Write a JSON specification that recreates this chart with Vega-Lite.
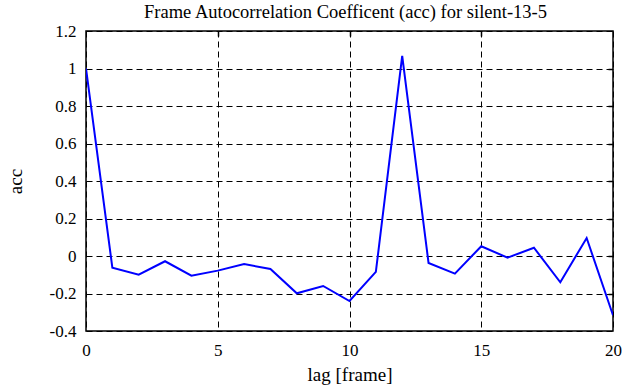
{
  "$schema": "https://vega.github.io/schema/vega-lite/v6.json",
  "width": 527,
  "height": 300,
  "autosize": {"type": "none"},
  "padding": {"left": 86, "top": 31, "right": 17, "bottom": 56},
  "background": "white",
  "title": {
    "text": "Frame Autocorrelation Coefficent (acc) for silent-13-5",
    "font": "Liberation Serif",
    "fontSize": 18.5,
    "fontWeight": "normal",
    "color": "black",
    "offset": 1,
    "dx": -4
  },
  "config": {
    "view": {"stroke": "black", "strokeWidth": 1.5},
    "axis": {
      "labelFont": "Liberation Serif",
      "labelFontSize": 17,
      "labelColor": "black",
      "titleFont": "Liberation Serif",
      "titleFontSize": 19,
      "titleFontWeight": "normal",
      "titleColor": "black",
      "domain": false,
      "gridColor": "black",
      "gridDash": [6, 4],
      "gridWidth": 1,
      "gridOpacity": 1,
      "tickColor": "black",
      "tickWidth": 1.5
    }
  },
  "data": {
    "values": [
      {"lag": 0, "acc": 1.0},
      {"lag": 1, "acc": -0.062},
      {"lag": 2, "acc": -0.1},
      {"lag": 3, "acc": -0.028},
      {"lag": 4, "acc": -0.105},
      {"lag": 5, "acc": -0.078},
      {"lag": 6, "acc": -0.043},
      {"lag": 7, "acc": -0.069},
      {"lag": 8, "acc": -0.199},
      {"lag": 9, "acc": -0.16},
      {"lag": 10, "acc": -0.24},
      {"lag": 11, "acc": -0.085},
      {"lag": 12, "acc": 1.067},
      {"lag": 13, "acc": -0.037},
      {"lag": 14, "acc": -0.094},
      {"lag": 15, "acc": 0.052},
      {"lag": 16, "acc": -0.009},
      {"lag": 17, "acc": 0.044},
      {"lag": 18, "acc": -0.14},
      {"lag": 19, "acc": 0.096},
      {"lag": 20, "acc": -0.316}
    ]
  },
  "layer": [
    {
      "mark": {"type": "line", "color": "#0000ff", "strokeWidth": 2, "clip": true},
      "encoding": {
        "x": {
          "field": "lag",
          "type": "quantitative",
          "scale": {"domain": [0, 20], "nice": false, "zero": false},
          "axis": {
            "orient": "bottom",
            "title": "lag [frame]",
            "values": [0, 5, 10, 15, 20],
            "grid": true,
            "ticks": false,
            "labelFlush": false,
            "labelFont": "Liberation Serif",
            "labelPadding": 11,
            "titlePadding": 7,
            "labelExpr": "'' + datum.value"
          }
        },
        "y": {
          "field": "acc",
          "type": "quantitative",
          "scale": {"domain": [-0.4, 1.2], "nice": false, "zero": false},
          "axis": {
            "orient": "left",
            "title": "acc",
            "values": [-0.4, -0.2, 0, 0.2, 0.4, 0.6, 0.8, 1, 1.2],
            "grid": true,
            "ticks": false,
            "labelFlush": false,
            "labelFont": "Liberation Serif",
            "labelPadding": 10,
            "titlePadding": 24,
            "labelExpr": "'' + datum.value"
          }
        }
      }
    },
    {
      "mark": {"type": "line", "opacity": 0},
      "encoding": {
        "x": {
          "field": "lag",
          "type": "quantitative",
          "axis": {
            "orient": "top",
            "title": null,
            "values": [5, 10, 15],
            "labels": false,
            "grid": false,
            "ticks": true,
            "tickSize": -5
          }
        },
        "y": {
          "field": "acc",
          "type": "quantitative",
          "axis": {
            "orient": "right",
            "title": null,
            "values": [-0.2, 0, 0.2, 0.4, 0.6, 0.8, 1],
            "labels": false,
            "grid": false,
            "ticks": true,
            "tickSize": -5
          }
        }
      }
    }
  ],
  "resolve": {"axis": {"x": "independent", "y": "independent"}}
}
